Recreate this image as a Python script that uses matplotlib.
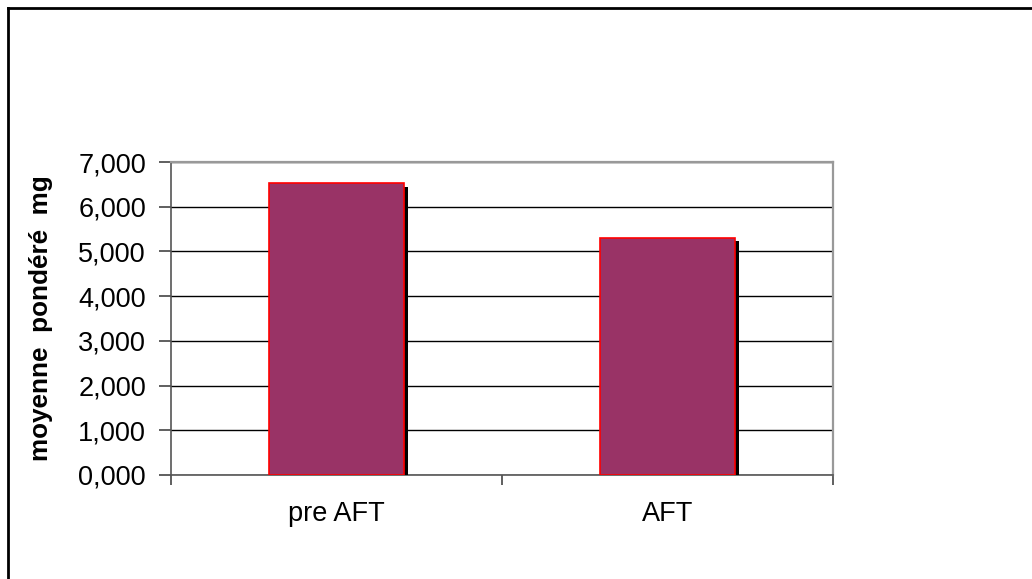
import matplotlib
matplotlib.use('Agg')
import matplotlib.pyplot as plt
import matplotlib.patheffects as pe
from matplotlib.lines import Line2D

# --- data ---
categories = ['pre AFT', 'AFT']
values = [6.52, 5.30]
yticks = [0, 1, 2, 3, 4, 5, 6, 7]
ytick_labels = ['0,000', '1,000', '2,000', '3,000', '4,000', '5,000', '6,000', '7,000']

plt.rcParams['font.family'] = ['Liberation Sans', 'DejaVu Sans']

fig = plt.figure(figsize=(10.32, 5.79), dpi=100)
ax = fig.add_axes([171 / 1032, 1 - 475 / 579, (833 - 171) / 1032, (475 - 162) / 579])

xpos = [i + 0.5 for i in range(len(categories))]
bars = ax.bar(xpos, values, width=0.405, color='#993366', edgecolor='#ff0000',
              linewidth=1.2, zorder=3)
for b in bars:
    b.set_path_effects([pe.SimplePatchShadow(offset=(3, -2.2), shadow_rgbFace='black', alpha=1),
                        pe.Normal()])

ax.set_xlim(0, len(categories))
ax.set_ylim(0, 7)
ax.set_yticks(yticks)
ax.set_yticklabels(ytick_labels)
ax.set_xticks(range(len(categories) + 1))
ax.set_xticklabels([])
ax.set_xticks(xpos, minor=True)
ax.set_xticklabels(categories, minor=True)
ax.tick_params(axis='x', which='minor', length=0, pad=19, labelsize=19.5)
ax.tick_params(axis='x', which='major', length=7, width=1.2, color='#444444')
ax.tick_params(axis='y', length=9, width=1.2, color='#444444', pad=9, labelsize=19.5)

ax.yaxis.grid(True, color='black', linewidth=1.0)
ax.set_axisbelow(True)

for s in ['top', 'right']:
    ax.spines[s].set_color('#999999')
    ax.spines[s].set_linewidth(1.6)
for s in ['left', 'bottom']:
    ax.spines[s].set_color('#555555')
    ax.spines[s].set_linewidth(1.2)

ax.set_ylabel('moyenne  pondéré  mg', fontsize=18.8, fontweight='bold')
ax.yaxis.set_label_coords(-0.178, 0.5)

# outer chart frame (left and top edges visible)
fig.add_artist(Line2D([8 / 1032, 8 / 1032], [0, 1 - 8 / 579], color='black', lw=2,
                      transform=fig.transFigure))
fig.add_artist(Line2D([8 / 1032, 1], [1 - 8 / 579, 1 - 8 / 579], color='black', lw=2,
                      transform=fig.transFigure))

fig.savefig('out.png', dpi=100)
